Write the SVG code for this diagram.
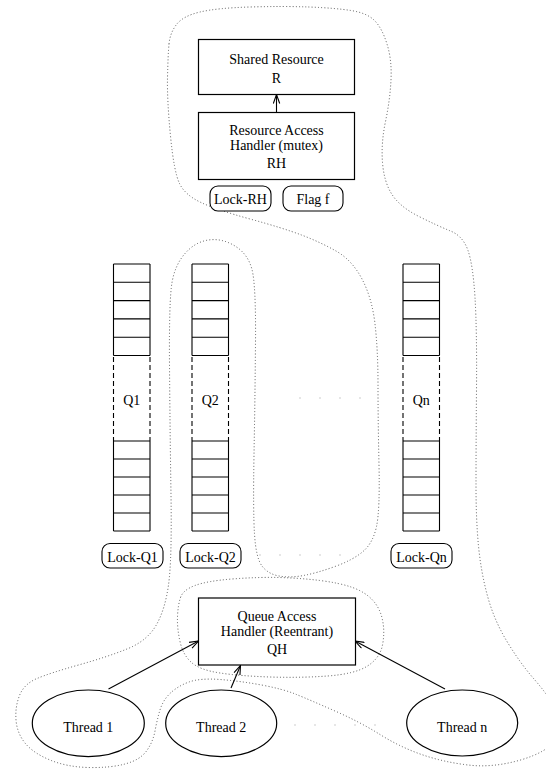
<svg xmlns="http://www.w3.org/2000/svg" width="546" height="769" viewBox="0 0 546 769">
  <style>
    .box { fill: #fff; stroke: #000; stroke-width: 1.2; }
    .pill { fill: #fff; stroke: #000; stroke-width: 1.1; }
    .cell { stroke: #000; stroke-width: 1.1; fill: none; }
    .dash { stroke: #000; stroke-width: 1.1; stroke-dasharray: 5 3; fill: none; }
    .region { fill: none; stroke: #444; stroke-width: 0.9; stroke-dasharray: 1 2.2; }
    .edge { fill: none; stroke: #000; stroke-width: 1.1; marker-end: url(#arrow); }
    .faint { fill: #bbb; }
    text { font-family: "Liberation Serif", "Times New Roman", serif; font-size: 14px; fill: #000; text-anchor: middle; }
  </style>
  <defs>
    <marker id="arrow" markerUnits="userSpaceOnUse" markerWidth="10" markerHeight="8" viewBox="0 0 10 8" refX="9.5" refY="4" orient="auto">
      <path d="M0.5,0.8 L9.5,4 L0.5,7.2" fill="none" stroke="#000" stroke-width="1.1"/>
    </marker>
    <!-- one queue: upper cells, elided middle, lower cells -->
    <g id="queue">
      <path class="cell" d="M0,0 H36.5 M0,18.3 H36.5 M0,36.6 H36.5 M0,54.9 H36.5 M0,73.2 H36.5 M0,91.5 H36.5 M0,0 V91.5 M36.5,0 V91.5"/>
      <path class="dash" d="M0,93 V177 M36.5,93 V177"/>
      <path class="cell" d="M0,177 H36.5 M0,195 H36.5 M0,213 H36.5 M0,231 H36.5 M0,249 H36.5 M0,267 H36.5 M0,177 V267 M36.5,177 V267"/>
    </g>
  </defs>

  <rect width="546" height="769" fill="#fff"/>

  <!-- dotted grouping outlines -->
  <g id="regions">
    <path id="outer-region" class="region" d="M169,44 Q170,33 176.5,24.5 Q183,16 200,12 Q217,8 250,7 Q283,6 309,7 Q335,8 351,10.5 Q367,13 374.5,20.5 Q382,28 387,44 Q392,60 391,80 Q390,100 385.5,121.5 Q381,143 382.5,162.5 Q384,182 392,194.5 Q400,207 419,216.5 Q438,226 450.5,231 Q463,236 468,250.5 Q473,265 475,297.5 Q477,330 476.5,390 Q476,450 476,485 Q476,520 478.5,546 Q481,572 487.5,596 Q494,620 507,641.5 Q520,663 534,679 Q548,695 556.5,710 Q565,725 556.5,738.5 Q548,752 520.5,760 Q493,768 468,765 Q443,762 421.5,754.5 Q400,747 380,734.5 Q360,722 335,711 Q310,700 296.5,694.5 Q283,689 261.5,685 Q240,681 220,679.5 Q200,678 189,682 Q178,686 170.5,693 Q163,700 160,710 Q157,720 155,731 Q153,742 146.5,751 Q140,760 125,764 Q110,768 88.5,767.5 Q67,767 50,760 Q33,753 25,743 Q17,733 16,720 Q15,707 19.5,695.5 Q24,684 37,678.5 Q50,673 78.5,665 Q107,657 127,649 Q147,641 156,625.5 Q165,610 168.5,585 Q172,560 171,495 Q170,430 169.5,365 Q169,300 172,282.5 Q175,265 185,253.5 Q195,242 208.5,240 Q222,238 235,246 Q248,254 252,269.5 Q256,285 255.5,342.5 Q255,400 254,455 Q253,510 254.5,534 Q256,558 262,566 Q268,574 279,576 Q290,578 303.5,575.5 Q317,573 335,566.5 Q353,560 363,551.5 Q373,543 376.5,526.5 Q380,510 379,465 Q378,420 378,385 Q378,350 375,324 Q372,298 362,279 Q352,260 336,251 Q320,242 301.5,235 Q283,228 250,219 Q217,210 201,202.5 Q185,195 179.5,183.5 Q174,172 170.5,136 Q167,100 167.5,77.5 Q168,55 169,44 Z"/>
    <path id="qh-region" class="region" d="M180.5,597.5 Q183,590 195,585.5 Q207,581 232,579 Q257,577 278.5,577.5 Q300,578 320,580.5 Q340,583 352.5,587.5 Q365,592 372.5,600 Q380,608 382.5,620 Q385,632 382.5,645 Q380,658 367.5,666 Q355,674 327.5,676 Q300,678 270,677 Q240,676 220,673 Q200,670 191.5,662.5 Q183,655 180,641.5 Q177,628 177.5,616.5 Q178,605 180.5,597.5 Z"/>
  </g>

  <!-- connectors -->
  <g id="connectors">
    <line class="edge" x1="276.5" y1="112" x2="276.5" y2="94.5"/>
    <line class="edge" x1="108.5" y1="689" x2="198.5" y2="641"/>
    <line class="edge" x1="231" y1="688" x2="240.5" y2="665.5"/>
    <line class="edge" x1="445" y1="689" x2="355" y2="641"/>
  </g>

  <g id="shared-resource">
    <rect class="box" x="198.5" y="39.5" width="156" height="55"/>
    <text x="276.5" y="64">Shared Resource</text>
    <text x="276.5" y="83">R</text>
  </g>

  <g id="resource-handler">
    <rect class="box" x="198.5" y="112.5" width="156" height="67"/>
    <text x="276.5" y="134.5">Resource Access</text>
    <text x="276.5" y="150">Handler (mutex)</text>
    <text x="276.5" y="168">RH</text>
  </g>

  <g id="lock-rh">
    <rect class="pill" x="210" y="186" width="61" height="25" rx="8"/>
    <text x="240.5" y="204">Lock-RH</text>
  </g>

  <g id="flag-f">
    <rect class="pill" x="283" y="186" width="60" height="25" rx="8"/>
    <text x="313" y="204">Flag f</text>
  </g>

  <g id="queue-1">
    <use href="#queue" x="113.5" y="264"/>
    <text x="131.8" y="405">Q1</text>
  </g>

  <g id="queue-2">
    <use href="#queue" x="192" y="264"/>
    <text x="210.2" y="405">Q2</text>
  </g>

  <g id="queue-n">
    <use href="#queue" x="403" y="264"/>
    <text x="421.2" y="405">Qn</text>
  </g>

  <!-- faint ellipsis marks between the second and the last column -->
  <g id="ellipsis">
    <circle class="faint" cx="300" cy="398" r="0.7"/>
    <circle class="faint" cx="320" cy="398" r="0.7"/>
    <circle class="faint" cx="340" cy="398" r="0.7"/>
    <circle class="faint" cx="360" cy="398" r="0.7"/>
    <circle class="faint" cx="260" cy="555" r="0.7"/>
    <circle class="faint" cx="280" cy="555" r="0.7"/>
    <circle class="faint" cx="300" cy="555" r="0.7"/>
    <circle class="faint" cx="320" cy="555" r="0.7"/>
    <circle class="faint" cx="340" cy="555" r="0.7"/>
    <circle class="faint" cx="295" cy="725" r="0.7"/>
    <circle class="faint" cx="315" cy="725" r="0.7"/>
    <circle class="faint" cx="335" cy="725" r="0.7"/>
    <circle class="faint" cx="355" cy="725" r="0.7"/>
    <circle class="faint" cx="375" cy="725" r="0.7"/>
  </g>

  <g id="lock-q1">
    <rect class="pill" x="102" y="543.5" width="61" height="24.5" rx="8"/>
    <text x="132.5" y="561.5">Lock-Q1</text>
  </g>

  <g id="lock-q2">
    <rect class="pill" x="180" y="543.5" width="61" height="24.5" rx="8"/>
    <text x="210.5" y="561.5">Lock-Q2</text>
  </g>

  <g id="lock-qn">
    <rect class="pill" x="391" y="543.5" width="61" height="24.5" rx="8"/>
    <text x="421.5" y="561.5">Lock-Qn</text>
  </g>

  <g id="queue-handler">
    <rect class="box" x="198.5" y="598" width="157" height="67"/>
    <text x="277" y="620.5">Queue Access</text>
    <text x="277" y="636">Handler (Reentrant)</text>
    <text x="277" y="654">QH</text>
  </g>

  <g id="thread-1">
    <ellipse class="box" cx="88.3" cy="723.3" rx="56" ry="33.3"/>
    <text x="88.3" y="732">Thread 1</text>
  </g>

  <g id="thread-2">
    <ellipse class="box" cx="221.2" cy="723.3" rx="55.5" ry="33.3"/>
    <text x="221.2" y="732">Thread 2</text>
  </g>

  <g id="thread-n">
    <ellipse class="box" cx="462.2" cy="723" rx="55.5" ry="33"/>
    <text x="462.2" y="732">Thread n</text>
  </g>
</svg>
